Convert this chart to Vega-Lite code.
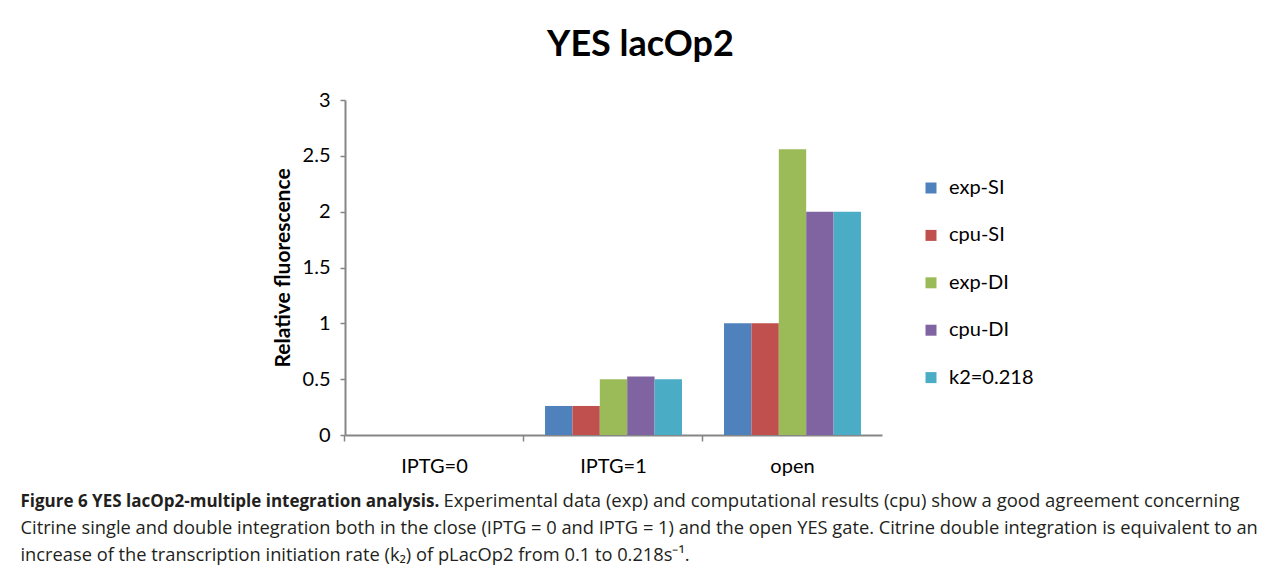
{
  "$schema": "https://vega.github.io/schema/vega-lite/v6.json",
  "autosize": "none",
  "width": 537,
  "height": 335,
  "padding": {"left": 345, "top": 100, "right": 399, "bottom": 143},
  "background": "white",
  "title": {
    "text": "YES lacOp2",
    "anchor": "middle",
    "frame": "group",
    "dx": 27,
    "offset": -2,
    "baseline": "alphabetic",
    "font": "Lato",
    "fontSize": 36,
    "fontWeight": "bold",
    "color": "#000000"
  },
  "config": {
    "font": "Lato",
    "view": {"stroke": null},
    "axis": {"grid": false, "domainColor": "#868686", "tickColor": "#868686", "labelColor": "#000000", "titleColor": "#000000"}
  },
  "data": {
    "values": [
      {"condition": "IPTG=0", "series": "exp-SI", "value": 0},
      {"condition": "IPTG=0", "series": "cpu-SI", "value": 0},
      {"condition": "IPTG=0", "series": "exp-DI", "value": 0},
      {"condition": "IPTG=0", "series": "cpu-DI", "value": 0},
      {"condition": "IPTG=0", "series": "k2=0.218", "value": 0},
      {"condition": "IPTG=1", "series": "exp-SI", "value": 0.26},
      {"condition": "IPTG=1", "series": "cpu-SI", "value": 0.26},
      {"condition": "IPTG=1", "series": "exp-DI", "value": 0.5},
      {"condition": "IPTG=1", "series": "cpu-DI", "value": 0.525},
      {"condition": "IPTG=1", "series": "k2=0.218", "value": 0.5},
      {"condition": "open", "series": "exp-SI", "value": 1.0},
      {"condition": "open", "series": "cpu-SI", "value": 1.0},
      {"condition": "open", "series": "exp-DI", "value": 2.56},
      {"condition": "open", "series": "cpu-DI", "value": 2.0},
      {"condition": "open", "series": "k2=0.218", "value": 2.0}
    ]
  },
  "resolve": {"axis": {"x": "independent", "y": "independent"}},
  "layer": [
    {
      "mark": {"type": "bar"},
      "encoding": {
        "x": {
          "field": "condition",
          "type": "nominal",
          "sort": ["IPTG=0", "IPTG=1", "open"],
          "scale": {"paddingInner": 0.235, "paddingOuter": 0.1175},
          "axis": {
            "orient": "bottom",
            "labelAngle": 0,
            "ticks": false,
            "domainWidth": 2,
            "labelFontSize": 20,
            "labelPadding": 21,
            "labelBaseline": "top",
            "title": "Figure 6 YES lacOp2-multiple integration analysis.",
            "titleFont": "Open Sans",
            "titleFontSize": 17,
            "titleFontWeight": "bold",
            "titleColor": "#231f20",
            "titleX": -325,
            "titleY": 71,
            "titleAlign": "left",
            "titleAnchor": null,
            "titleBaseline": "alphabetic"
          }
        },
        "xOffset": {
          "field": "series",
          "type": "nominal",
          "sort": ["exp-SI", "cpu-SI", "exp-DI", "cpu-DI", "k2=0.218"],
          "scale": {"paddingInner": 0, "paddingOuter": 0}
        },
        "y": {
          "field": "value",
          "type": "quantitative",
          "stack": null,
          "scale": {"domain": [0, 3], "nice": false},
          "axis": {
            "orient": "left",
            "values": [0, 0.5, 1, 1.5, 2, 2.5, 3],
            "format": "~g",
            "domainWidth": 2,
            "tickSize": 5,
            "tickWidth": 1.5,
            "labelFontSize": 20,
            "labelPadding": 10,
            "title": "Relative fluorescence",
            "titleFontSize": 21,
            "titleFontWeight": "bold",
            "titlePadding": 9
          }
        },
        "color": {
          "field": "series",
          "type": "nominal",
          "scale": {
            "domain": ["exp-SI", "cpu-SI", "exp-DI", "cpu-DI", "k2=0.218"],
            "range": ["#4F81BD", "#C0504D", "#9BBB59", "#8064A2", "#4BACC6"]
          },
          "legend": {
            "title": null,
            "orient": "none",
            "legendX": 576,
            "legendY": 78,
            "symbolType": "square",
            "symbolSize": 121,
            "symbolStrokeWidth": 0,
            "labelFontSize": 20,
            "labelColor": "#000000",
            "labelOffset": 8,
            "rowPadding": 27.4
          }
        }
      }
    },
    {
      "mark": {"type": "bar", "opacity": 0},
      "encoding": {
        "x": {
          "field": "condition",
          "type": "nominal",
          "sort": ["IPTG=0", "IPTG=1", "open"],
          "axis": {
            "orient": "bottom",
            "labels": false,
            "domain": false,
            "ticks": true,
            "tickSize": 6,
            "tickWidth": 1.5,
            "bandPosition": -0.1536,
            "title": "Experimental data (exp) and computational results (cpu) show a good agreement concerning",
            "titleFont": "Open Sans",
            "titleFontSize": 18.5,
            "titleFontWeight": "normal",
            "titleColor": "#231f20",
            "titleX": 98,
            "titleY": 71,
            "titleAlign": "left",
            "titleAnchor": null,
            "titleBaseline": "alphabetic"
          }
        },
        "xOffset": {
          "field": "series",
          "type": "nominal",
          "sort": ["exp-SI", "cpu-SI", "exp-DI", "cpu-DI", "k2=0.218"]
        },
        "y": {
          "field": "value",
          "type": "quantitative",
          "stack": null,
          "axis": {
            "orient": "left",
            "labels": false,
            "ticks": false,
            "domain": false,
            "title": [
              "Citrine single and double integration both in the close (IPTG = 0 and IPTG = 1) and the open YES gate. Citrine double integration is equivalent to an",
              "increase of the transcription initiation rate (k₂) of pLacOp2 from 0.1 to 0.218s⁻¹."
            ],
            "titleFont": "Open Sans",
            "titleFontSize": 18.3,
            "titleFontWeight": "normal",
            "titleColor": "#231f20",
            "titleAngle": 0,
            "titleX": -325,
            "titleY": 433,
            "titleAlign": "left",
            "titleAnchor": null,
            "titleBaseline": "alphabetic",
            "titleLineHeight": 27
          }
        }
      }
    }
  ]
}
